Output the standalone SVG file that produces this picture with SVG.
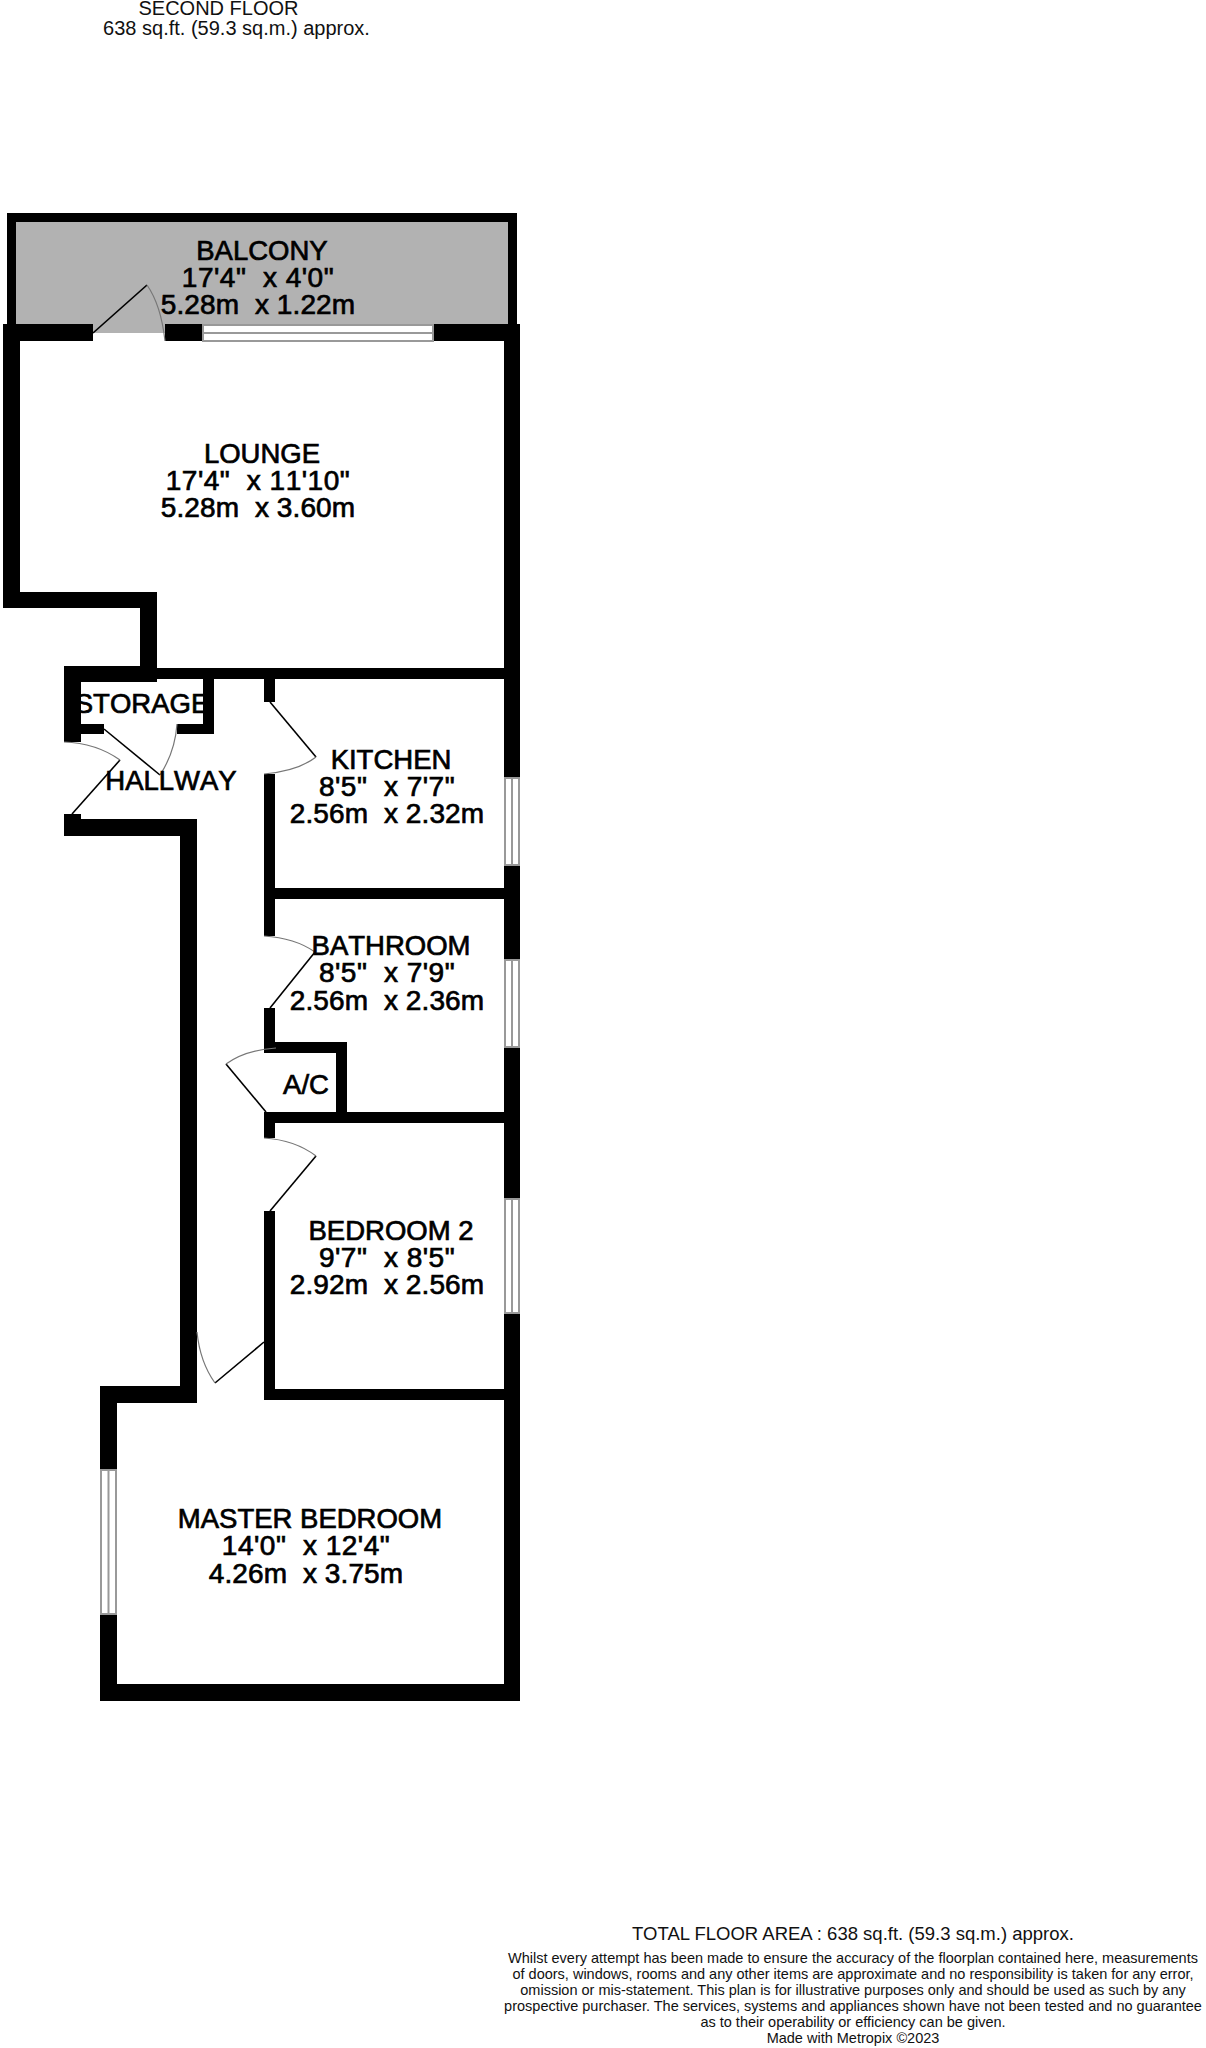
<svg xmlns="http://www.w3.org/2000/svg" width="1206" height="2048" viewBox="0 0 1206 2048">
<style>
text{font-family:"Liberation Sans",Arial,sans-serif;fill:#000;text-anchor:middle;white-space:pre;font-kerning:none}
.r{font-size:27.5px;stroke:#000;stroke-width:.7px}
.q{font-size:28px;letter-spacing:.5px;stroke:#000;stroke-width:.7px}
.d{font-size:28px;letter-spacing:.1px;stroke:#000;stroke-width:.7px}
.h{font-size:20px;fill:#111;font-kerning:auto}
.t{font-size:18.5px;fill:#111;font-kerning:auto}
.f{font-size:14.5px;fill:#111;font-kerning:auto}
.w{fill:#000}
.win{fill:#fff;stroke:#999;stroke-width:2px}
.leaf{fill:none;stroke:#000;stroke-width:1.6px}
.arc{fill:none;stroke:#777;stroke-width:1.2px}
</style>
<rect width="1206" height="2048" fill="#fff"/>
<g id="balcony">
<rect x="11" y="217" width="501" height="116" fill="#b2b2b2"/>
<path class="w" d="M7 213H517V326H508V222H16V326H7Z"/>
</g>
<g id="walls">
<rect class="w" x="3" y="324" width="90" height="17"/>
<rect class="w" x="165" y="324" width="38" height="17"/>
<rect class="w" x="433" y="324" width="87" height="17"/>
<rect class="w" x="3" y="324" width="17" height="284"/>
<rect class="w" x="3" y="592" width="154" height="16"/>
<rect class="w" x="140" y="592" width="17" height="90"/>
<rect class="w" x="157" y="668" width="347" height="11"/>
<rect class="w" x="64" y="666" width="93" height="16"/>
<rect class="w" x="64" y="666" width="17" height="76"/>
<rect class="w" x="203" y="679" width="11" height="55"/>
<rect class="w" x="81" y="724" width="23" height="10"/>
<rect class="w" x="177" y="724" width="37" height="10"/>
<rect class="w" x="64" y="814" width="17" height="22"/>
<rect class="w" x="64" y="819" width="133" height="17"/>
<rect class="w" x="180" y="819" width="17" height="584"/>
<rect class="w" x="100" y="1386" width="97" height="17"/>
<rect class="w" x="100" y="1386" width="17" height="84"/>
<rect class="w" x="100" y="1614" width="17" height="87"/>
<rect class="w" x="100" y="1684" width="420" height="17"/>
<rect class="w" x="264" y="679" width="11" height="23"/>
<rect class="w" x="264" y="774" width="11" height="162"/>
<rect class="w" x="264" y="888" width="240" height="11"/>
<rect class="w" x="264" y="1008" width="11" height="45"/>
<rect class="w" x="264" y="1042" width="83" height="11"/>
<rect class="w" x="336" y="1042" width="11" height="81"/>
<rect class="w" x="264" y="1112" width="240" height="11"/>
<rect class="w" x="264" y="1112" width="11" height="26"/>
<rect class="w" x="264" y="1211" width="11" height="189"/>
<rect class="w" x="264" y="1389" width="240" height="11"/>
<rect class="w" x="504" y="324" width="16" height="454"/>
<rect class="w" x="504" y="865" width="16" height="95"/>
<rect class="w" x="504" y="1047" width="16" height="152"/>
<rect class="w" x="504" y="1313" width="16" height="388"/>
</g>
<g id="windows">
<rect class="win" x="203" y="325" width="230" height="16"/><path class="win" d="M203 333H433"/>
<rect class="win" x="505" y="778" width="14" height="87"/><path class="win" d="M512 778V865"/>
<rect class="win" x="505" y="960" width="14" height="87"/><path class="win" d="M512 960V1047"/>
<rect class="win" x="505" y="1199" width="14" height="114"/><path class="win" d="M512 1199V1313"/>
<rect class="win" x="101" y="1470" width="15" height="144"/><path class="win" d="M108.500 1470V1614"/>
</g>
<g id="doors">
<path class="leaf" d="M93 333L147 285"/><path class="arc" d="M147 285Q161 305 165 341"/>
<path class="leaf" d="M104 729L160 775"/><path class="arc" d="M160 775Q175 752 177 724"/>
<path class="leaf" d="M120 760L72 814"/><path class="arc" d="M64 742Q96 743 120 760"/>
<path class="leaf" d="M270 702L316 757"/><path class="arc" d="M316 757Q298 771 264 774"/>
<path class="leaf" d="M315 952L270 1008"/><path class="arc" d="M264 936Q295 938 315 952"/>
<path class="leaf" d="M226 1064L266 1112"/><path class="arc" d="M226 1064Q245 1050 276 1048"/>
<path class="leaf" d="M316 1156L270 1211"/><path class="arc" d="M264 1138Q295 1140 316 1156"/>
<path class="leaf" d="M215 1383L264 1342"/><path class="arc" d="M197 1332Q200 1362 215 1383"/>
</g>
<g id="balcony-label"><text class="r" x="262" y="259.500">BALCONY</text><text class="q" x="258" y="286.500">17'4"  x 4'0"</text><text class="d" x="258" y="313.500">5.28m  x 1.22m</text></g>
<g id="lounge"><text class="r" x="262" y="462.500">LOUNGE</text><text class="q" x="258" y="489.500">17'4"  x 11'10"</text><text class="d" x="258" y="516.500">5.28m  x 3.60m</text></g>
<g id="storage"><text class="r" x="142" y="712.500">STORAGE</text></g>
<g id="hallway"><text class="r" x="171" y="789.500">HALLWAY</text></g>
<g id="kitchen"><text class="r" x="391" y="768.500">KITCHEN</text><text class="q" x="387" y="795.500">8'5"  x 7'7"</text><text class="d" x="387" y="822.500">2.56m  x 2.32m</text></g>
<g id="bathroom"><text class="r" x="391" y="954.500">BATHROOM</text><text class="q" x="387" y="982">8'5"  x 7'9"</text><text class="d" x="387" y="1009.500">2.56m  x 2.36m</text></g>
<g id="ac"><text class="r" x="306" y="1093.500">A/C</text></g>
<g id="bedroom2"><text class="r" x="391" y="1239.500">BEDROOM 2</text><text class="q" x="387" y="1266.500">9'7"  x 8'5"</text><text class="d" x="387" y="1294">2.92m  x 2.56m</text></g>
<g id="master"><text class="r" x="310" y="1527.500">MASTER BEDROOM</text><text class="q" x="306" y="1555">14'0"  x 12'4"</text><text class="d" x="306" y="1582.500">4.26m  x 3.75m</text></g>
<g id="header"><text class="h" x="218.500" y="15">SECOND FLOOR</text><text class="h" x="236.500" y="35">638 sq.ft. (59.3 sq.m.) approx.</text></g>
<g id="footer"><text class="t" x="853" y="1940">TOTAL FLOOR AREA : 638 sq.ft. (59.3 sq.m.) approx.</text>
<text class="f" x="853" y="1963">Whilst every attempt has been made to ensure the accuracy of the floorplan contained here, measurements</text>
<text class="f" x="853" y="1979">of doors, windows, rooms and any other items are approximate and no responsibility is taken for any error,</text>
<text class="f" x="853" y="1995">omission or mis-statement. This plan is for illustrative purposes only and should be used as such by any</text>
<text class="f" x="853" y="2011">prospective purchaser. The services, systems and appliances shown have not been tested and no guarantee</text>
<text class="f" x="853" y="2027">as to their operability or efficiency can be given.</text>
<text class="f" x="853" y="2043">Made with Metropix ©2023</text></g>
</svg>
